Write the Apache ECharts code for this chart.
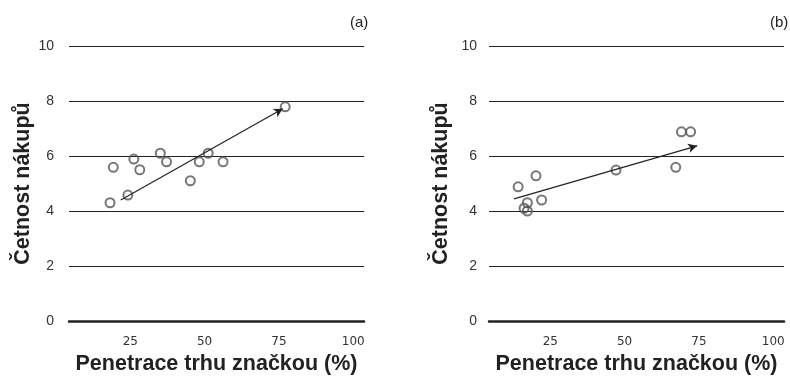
<!DOCTYPE html>
<html>
<head>
<meta charset="utf-8">
<script src="https://cdn.jsdelivr.net/npm/echarts@6/dist/echarts.min.js"></script>
<style>
html,body{margin:0;padding:0;background:#fff;}
#chart{width:790px;height:388px;}
</style>
</head>
<body>
<div id="chart"></div>
<script>
// Panel (a)
var penetrationA = [19.3, 18.2, 24.2, 26.2, 28.2, 35.1, 37.2, 45.2, 48.2, 51.2, 56.2, 77.1];
var frequencyA   = [5.59, 4.30, 4.58, 5.89, 5.50, 6.10, 5.79, 5.10, 5.79, 6.10, 5.79, 7.79];
var trendA = [[21.8, 4.40], [76.3, 7.72]];
// Panel (b)
var penetrationB = [14.2, 20.2, 17.3, 16.2, 17.3, 22.1, 47.1, 67.2, 69.1, 72.2];
var frequencyB   = [4.88, 5.28, 4.30, 4.10, 4.00, 4.40, 5.49, 5.59, 6.88, 6.88];
var trendB = [[12.8, 4.44], [74.4, 6.37]];

var xTickLabels = [25, 50, 75, 100];
var yTicks = [0, 2, 4, 6, 8, 10];
var panelLabels = ['(a)', '(b)'];
var xTitle = 'Penetrace trhu značkou (%)';
var yTitle = 'Četnost nákupů';

function zip(xs, ys) { return xs.map(function (x, i) { return [x, ys[i]]; }); }

var chart = echarts.init(document.getElementById('chart'), null, {renderer: 'canvas'});

var titleFont = {fontFamily: 'Liberation Sans', fontSize: 21.5, fontWeight: 'bold', color: '#222'};

function xAxisFor(idx) {
  return {
    type: 'value', gridIndex: idx, min: 4.4, max: 103.6,
    axisLine: {show: true, onZero: false, lineStyle: {color: '#222', width: 2.5}},
    axisTick: {show: false},
    splitLine: {show: false},
    axisLabel: {
      customValues: xTickLabels, margin: 15,
      color: '#333', fontFamily: 'DejaVu Sans', fontSize: 12
    },
    name: xTitle, nameLocation: 'middle', nameGap: 32,
    nameTextStyle: titleFont
  };
}
function yAxisFor(idx, gap, lblMargin) {
  return {
    type: 'value', gridIndex: idx, min: yTicks[0], max: yTicks[yTicks.length - 1], interval: 2,
    axisLine: {show: false},
    axisTick: {show: false},
    splitLine: {show: true, lineStyle: {color: '#222', width: 1}},
    axisLabel: {margin: lblMargin, color: '#333', fontFamily: 'Liberation Sans', fontSize: 14},
    name: yTitle, nameLocation: 'middle', nameGap: gap,
    nameTextStyle: titleFont
  };
}
function scatterFor(idx, data) {
  return {
    type: 'scatter', xAxisIndex: idx, yAxisIndex: idx, data: data,
    symbol: 'circle', symbolSize: 9,
    itemStyle: {color: 'rgba(255,255,255,0)', borderColor: '#555', borderWidth: 2},
    z: 3
  };
}
function trendFor(idx, t) {
  return {
    type: 'line', xAxisIndex: idx, yAxisIndex: idx, data: [],
    markLine: {
      silent: true, animation: false,
      symbol: ['none', 'arrow'], symbolSize: [7, 9],
      label: {show: false},
      lineStyle: {color: '#222', width: 1.2, type: 'solid'},
      data: [[{coord: t[0]}, {coord: t[1]}]]
    }
  };
}

chart.setOption({
  animation: false,
  backgroundColor: '#fff',
  title: [
    {text: panelLabels[0], left: 345, top: 10, textStyle: {fontFamily: 'Liberation Sans', fontSize: 15, fontWeight: 'normal', color: '#222'}},
    {text: panelLabels[1], left: 765, top: 10, textStyle: {fontFamily: 'Liberation Sans', fontSize: 15, fontWeight: 'normal', color: '#222'}}
  ],
  grid: [
    {left: 69, right: 426, top: 46, bottom: 67},
    {left: 489, right: 6, top: 46, bottom: 67}
  ],
  xAxis: [xAxisFor(0), xAxisFor(1)],
  yAxis: [yAxisFor(0, 33, 15), yAxisFor(1, 37, 12)],
  series: [
    scatterFor(0, zip(penetrationA, frequencyA)),
    trendFor(0, trendA),
    scatterFor(1, zip(penetrationB, frequencyB)),
    trendFor(1, trendB)
  ]
});
</script>
</body>
</html>
